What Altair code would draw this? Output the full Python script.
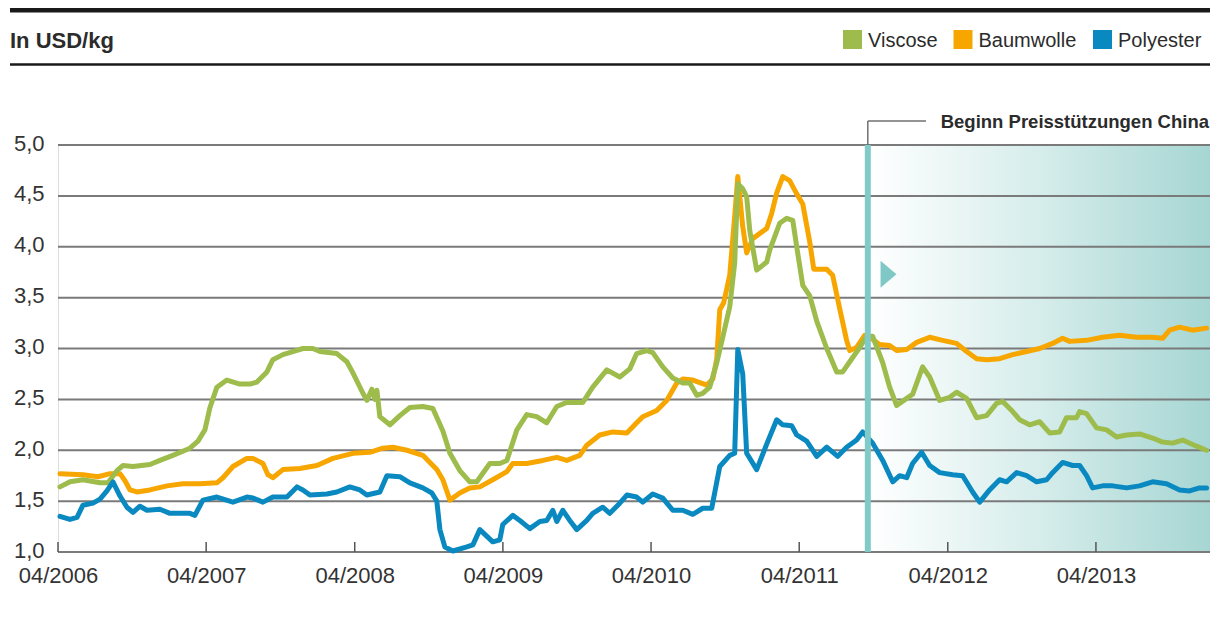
import altair as alt
import pandas as pd

# ---------------- data ----------------
START = pd.Timestamp("2006-04-01")
END_DATE = "2014-01-07"

series_names = ["Viscose", "Baumwolle", "Polyester"]
series_colors = ["#9dbc4b", "#f7a600", "#0a89c1"]

# (months after 04/2006, USD/kg)
viscose = [(0.16,1.64),(0.97,1.69),(2.02,1.71),(3.40,1.68),(4.05,1.68),(4.77,1.80),(5.26,1.85),(6.07,1.84),(7.44,1.86),(8.25,1.90),(9.30,1.95),(10.68,2.02),(11.33,2.09),(11.89,2.20),(12.30,2.42),(12.86,2.62),(13.67,2.69),(14.72,2.65),(15.53,2.65),(16.1,2.67),(16.91,2.77),(17.39,2.89),(18.2,2.94),(19.01,2.97),(19.82,3.0),(20.63,3.0),(21.2,2.97),(22.57,2.95),(23.38,2.87),(23.87,2.76),(24.68,2.56),(25.0,2.49),(25.4,2.6),(25.65,2.5),(25.81,2.59),(26.05,2.33),(26.86,2.25),(27.67,2.34),(28.48,2.42),(29.53,2.43),(30.34,2.41),(31.15,2.19),(31.72,1.97),(32.52,1.80),(33.33,1.69),(33.9,1.69),(34.95,1.87),(35.76,1.87),(36.33,1.9),(37.14,2.2),(37.94,2.35),(38.75,2.33),(39.56,2.27),(40.37,2.43),(41.18,2.47),(42.48,2.47),(43.28,2.62),(44.42,2.79),(45.47,2.72),(46.28,2.80),(46.84,2.95),(47.65,2.98),(48.14,2.96),(48.95,2.82),(49.76,2.71),(50.57,2.66),(51.13,2.66),(51.7,2.54),(52.18,2.56),(52.75,2.62),(53.32,2.86),(53.8,3.11),(54.37,3.41),(54.77,3.84),(55.02,4.62),(55.42,4.57),(55.74,4.49),(55.99,4.16),(56.55,3.77),(57.36,3.85),(57.61,3.97),(58.41,4.23),(58.98,4.28),(59.47,4.26),(59.79,4.0),(60.28,3.62),(60.84,3.52),(61.41,3.27),(62.22,3.0),(63.03,2.77),(63.51,2.77),(64.08,2.87),(64.89,3.01),(65.45,3.12),(65.94,3.12),(66.75,2.86),(67.31,2.62),(67.88,2.44),(68.69,2.51),(69.17,2.55),(69.98,2.82),(70.55,2.72),(71.36,2.49),(72.17,2.52),(72.73,2.57),(73.54,2.51),(74.35,2.32),(75.16,2.34),(75.97,2.46),(76.46,2.48),(77.27,2.38),(77.83,2.30),(78.64,2.25),(79.45,2.28),(80.26,2.17),(81.07,2.18),(81.63,2.32),(82.44,2.32),(82.69,2.38),(83.25,2.36),(84.06,2.22),(84.87,2.2),(85.68,2.13),(86.49,2.15),(87.54,2.16),(88.59,2.12),(89.4,2.08),(90.21,2.07),(91.02,2.1),(92.15,2.04),(92.96,2.0)]

baumwolle = [(0.16,1.77),(2.02,1.76),(3.24,1.74),(4.21,1.77),(5.02,1.77),(5.42,1.70),(5.83,1.61),(6.39,1.59),(7.44,1.61),(8.82,1.65),(10.11,1.67),(11.49,1.67),(12.86,1.68),(13.35,1.73),(14.16,1.84),(15.29,1.92),(15.78,1.92),(16.59,1.87),(16.99,1.76),(17.39,1.73),(18.2,1.81),(19.58,1.82),(20.95,1.85),(22.25,1.92),(23.87,1.97),(25.24,1.98),(26.29,2.02),(27.1,2.03),(28.24,2.0),(29.53,1.95),(30.66,1.81),(31.15,1.71),(31.72,1.51),(32.52,1.58),(33.33,1.63),(34.14,1.64),(35.19,1.71),(36.33,1.79),(36.81,1.87),(37.94,1.87),(39.24,1.9),(40.37,1.93),(41.18,1.9),(42.23,1.95),(42.8,2.05),(43.85,2.15),(44.9,2.18),(46.04,2.17),(46.84,2.27),(47.33,2.33),(48.46,2.39),(49.27,2.49),(50.08,2.66),(50.57,2.70),(51.38,2.69),(52.51,2.64),(53.0,2.70),(53.32,2.90),(53.56,3.38),(53.88,3.45),(54.37,3.72),(54.77,4.3),(55.02,4.69),(55.42,4.2),(55.74,3.94),(56.23,4.08),(57.36,4.18),(57.77,4.33),(58.17,4.53),(58.66,4.69),(59.22,4.65),(59.79,4.52),(60.28,4.42),(60.84,4.05),(61.17,3.78),(62.22,3.78),(62.7,3.72),(63.27,3.39),(63.83,3.08),(64.08,2.98),(64.64,3.01),(65.29,3.13),(65.7,3.11),(66.5,3.04),(67.31,3.03),(67.88,2.98),(68.69,2.99),(69.5,3.06),(70.55,3.11),(71.6,3.08),(72.73,3.05),(73.54,2.97),(74.35,2.9),(75.16,2.89),(76.21,2.9),(77.27,2.94),(78.4,2.97),(79.45,3.0),(80.5,3.05),(81.31,3.1),(81.88,3.07),(83.25,3.08),(84.55,3.11),(85.92,3.13),(87.3,3.11),(88.59,3.11),(89.4,3.1),(89.97,3.18),(90.78,3.21),(91.83,3.18),(92.96,3.2)]

polyester = [(0.16,1.35),(0.97,1.32),(1.54,1.34),(2.02,1.46),(2.83,1.48),(3.40,1.52),(3.96,1.60),(4.45,1.69),(5.02,1.55),(5.58,1.44),(6.07,1.39),(6.63,1.45),(7.2,1.41),(8.25,1.42),(9.06,1.38),(10.11,1.38),(10.68,1.38),(11.08,1.36),(11.73,1.51),(12.86,1.54),(14.16,1.49),(15.29,1.54),(15.78,1.53),(16.59,1.49),(17.39,1.54),(18.53,1.54),(19.34,1.64),(19.82,1.61),(20.39,1.56),(21.76,1.57),(22.57,1.59),(23.62,1.64),(24.43,1.61),(25.0,1.56),(26.05,1.59),(26.62,1.75),(27.67,1.74),(28.48,1.68),(29.53,1.63),(30.26,1.58),(30.66,1.50),(30.91,1.22),(31.31,1.05),(31.96,1.01),(33.09,1.05),(33.58,1.07),(34.14,1.22),(35.19,1.10),(35.76,1.12),(36.0,1.27),(36.81,1.36),(37.38,1.31),(38.19,1.23),(39.0,1.30),(39.56,1.31),(40.05,1.41),(40.37,1.30),(40.86,1.41),(41.42,1.31),(41.99,1.22),(42.8,1.31),(43.28,1.38),(44.09,1.44),(44.66,1.38),(45.47,1.48),(46.04,1.56),(46.84,1.54),(47.33,1.49),(48.14,1.57),(48.95,1.53),(49.76,1.41),(50.57,1.41),(51.38,1.37),(52.18,1.43),(52.91,1.43),(53.56,1.84),(54.37,1.95),(54.77,1.97),(55.02,2.99),(55.42,2.75),(55.74,1.97),(56.55,1.81),(57.36,2.06),(58.17,2.30),(58.66,2.25),(59.39,2.24),(59.79,2.15),(60.6,2.09),(61.41,1.94),(62.22,2.03),(63.11,1.94),(63.83,2.03),(64.64,2.1),(65.13,2.18),(65.94,2.07),(66.75,1.90),(67.56,1.69),(68.12,1.75),(68.69,1.73),(69.17,1.87),(69.9,1.98),(70.55,1.85),(71.36,1.78),(72.41,1.76),(73.22,1.75),(74.03,1.59),(74.6,1.49),(75.4,1.61),(76.21,1.71),(76.78,1.69),(77.59,1.78),(78.4,1.75),(79.21,1.69),(80.02,1.71),(80.5,1.78),(81.31,1.88),(82.12,1.85),(82.69,1.85),(83.25,1.75),(83.74,1.63),(84.55,1.65),(85.36,1.65),(86.49,1.63),(87.54,1.65),(88.59,1.69),(89.72,1.67),(90.78,1.61),(91.59,1.60),(92.39,1.63),(92.96,1.63)]

y_ticks = [1.0, 1.5, 2.0, 2.5, 3.0, 3.5, 4.0, 4.5, 5.0]
x_tick_years = [2006, 2007, 2008, 2009, 2010, 2011, 2012, 2013]

title_text = "In USD/kg"
event_date = "2011-09-17"
event_label = "Beginn Preisstützungen China"
arrow_date = "2011-11-07"
arrow_value = 3.73

# ---------------- build tables ----------------
def to_date(m):
    return (START + pd.Timedelta(days=m * 30.4375)).strftime("%Y-%m-%dT%H:%M:%S")

rows = []
for name, pts in zip(series_names, [viscose, baumwolle, polyester]):
    for m, v in pts:
        rows.append({"date": to_date(m), "value": v, "series": name})
df = pd.DataFrame(rows)

ticks_df = pd.DataFrame({"date": [f"{y}-04-01T00:00:00" for y in x_tick_years]})
grid_df = pd.DataFrame({"v": y_ticks})
event_df = pd.DataFrame({"date": [event_date + "T00:00:00"], "end": [END_DATE + "T00:00:00"]})
arrow_df = pd.DataFrame({"date": [arrow_date + "T00:00:00"], "value": [arrow_value]})
one = pd.DataFrame({"a": [0]})

W, H = 1152, 407
FONT = "Liberation Sans"
TXT = "#2b2b2b"

x_scale = alt.Scale(domain=[alt.DateTime(year=2006, month=4, date=1),
                            alt.DateTime(year=2014, month=1, date=7)])
y_scale = alt.Scale(domain=[1, 5], nice=False, zero=False)

x_axis = alt.Axis(values=[alt.DateTime(year=y, month=4, date=1) for y in x_tick_years],
                  format="%m/%Y", title=None, grid=False, domain=False, ticks=False,
                  labelPadding=13, labelFontSize=22, labelColor="#333333", labelFont=FONT,
                  labelAngle=0, labelFlush=False)
y_axis = alt.Axis(values=y_ticks, title=None, grid=False, domain=False, ticks=False,
                  tickSize=0, labelPadding=14, labelFontSize=22, labelColor="#333333",
                  labelFont=FONT, labelOffset=-2,
                  labelExpr="replace(format(datum.value, '.1f'), '.', ',')")

X = lambda f: alt.X(f, type="temporal", scale=x_scale, axis=x_axis)
Y = lambda f: alt.Y(f, type="quantitative", scale=y_scale, axis=y_axis)

grad = alt.Gradient(gradient="linear", x1=0, x2=1, y1=0, y2=0,
                    stops=[alt.GradientStop(color="#ffffff", offset=0),
                           alt.GradientStop(color="#d6edeb", offset=0.5),
                           alt.GradientStop(color="#a6d6d3", offset=1)])

shade = alt.Chart(event_df).mark_rect(fill=grad).encode(x=X("date"), x2="end:T")

grid = alt.Chart(grid_df).mark_rule(color="#7a7a7a", strokeWidth=2).encode(y=Y("v"))

tick_marks = alt.Chart(ticks_df).mark_rule(color="#555555", strokeWidth=1.5).encode(
    x=X("date"), y=alt.value(H - 10), y2=alt.value(H))

layers = [shade, grid, tick_marks]
for name in ["Baumwolle", "Viscose", "Polyester"]:
    col = series_colors[series_names.index(name)]
    layers.append(
        alt.Chart(df).transform_filter(alt.datum.series == name)
        .mark_line(color=col, strokeWidth=5, strokeJoin="round", strokeCap="round")
        .encode(x=X("date"), y=Y("value"))
    )

event_line = alt.Chart(event_df).mark_rule(color="#80cac8", strokeWidth=6).encode(x=X("date"))
arrow = alt.Chart(arrow_df).mark_point(shape="M-0.59,-1L0.59,0L-0.59,1Z", size=729, filled=True,
                                       color="#80c8c5", opacity=1, strokeWidth=0).encode(
    x=X("date"), y=Y("value"))
conn_v = alt.Chart(event_df).mark_rule(color="#707070", strokeWidth=1.5).encode(
    x=X("date"), y=alt.value(-24), y2=alt.value(0))
conn_h = alt.Chart(event_df).mark_rule(color="#707070", strokeWidth=1.5).encode(
    x=X("date"), x2=alt.value(868), y=alt.value(-24))
event_text = alt.Chart(one).mark_text(align="right", baseline="middle", fontSize=18.5,
                                      fontWeight="bold", font=FONT, color=TXT).encode(
    x=alt.value(1151), y=alt.value(-23), text=alt.value(event_label))

layers += [event_line, arrow, conn_v, conn_h, event_text]

# header decoration
top_bar = alt.Chart(one).mark_rule(color="#1a1a1a", strokeWidth=5).encode(
    x=alt.value(-48), x2=alt.value(1160), y=alt.value(-135))
sub_bar = alt.Chart(one).mark_rule(color="#1a1a1a", strokeWidth=2.5).encode(
    x=alt.value(-48), x2=alt.value(1160), y=alt.value(-80.5))
title = alt.Chart(one).mark_text(align="left", baseline="alphabetic", fontSize=22,
                                 fontWeight="bold", font=FONT, color=TXT).encode(
    x=alt.value(-48), y=alt.value(-97.5), text=alt.value(title_text))
layers += [top_bar, sub_bar, title]

# legend
leg_sq_x = [794.5, 905, 1044.5]
for name, sx in zip(series_names, leg_sq_x):
    col = series_colors[series_names.index(name)]
    layers.append(alt.Chart(one).mark_square(size=361, color=col, opacity=1).encode(
        x=alt.value(sx), y=alt.value(-105.5)))
    layers.append(alt.Chart(one).mark_text(align="left", baseline="middle", fontSize=20,
                                           font=FONT, color=TXT).encode(
        x=alt.value(sx + 15.5), y=alt.value(-104.5), text=alt.value(name)))

chart = alt.layer(*layers).properties(
    width=W, height=H, autosize="none",
    padding={"left": 50, "top": 137, "right": 0, "bottom": 48},
).configure_view(stroke=None).configure(font=FONT)

chart.save("out.html", embed_options={"renderer": "svg", "actions": False})
